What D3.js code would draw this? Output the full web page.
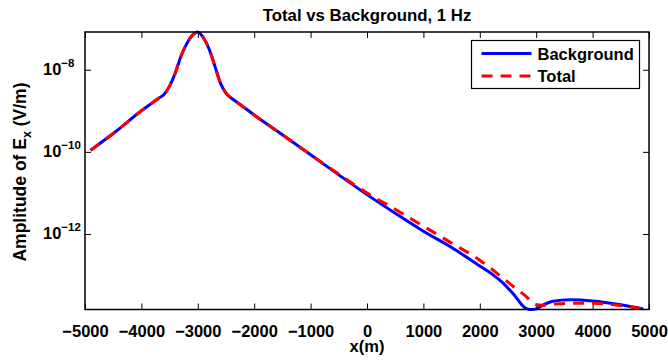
<!DOCTYPE html>
<html>
<head>
<meta charset="utf-8">
<script src="https://cdn.jsdelivr.net/npm/d3@7"></script>
<style>
  body { margin: 0; background: #fff; }
  svg { display: block; font-family: "Liberation Sans", Arial, Helvetica, sans-serif; font-weight: bold; }
  svg text { font-family: "Liberation Sans", Arial, Helvetica, sans-serif; }
</style>
</head>
<body>
<div id="chart"></div>
<script>
// values (x in metres, amplitude in V/m)
const bgX = [-4900, -4500, -4000, -3700, -3600, -3500, -3400, -3300, -3200, -3100, -3000,
  -2900, -2800, -2700, -2600, -2500, -2400, -2300, -2000, -1500, -1000, -500, 0,
  500, 1000, 1500, 2000, 2200, 2400, 2600, 2800, 2900, 3000, 3100, 3300, 3600, 4000, 4500, 4900];
const bgY = [1.10e-10, 2.8e-10, 1.0e-9, 2.0e-9, 2.5e-9, 4.0e-9, 8.3e-9, 2.1e-8, 4.2e-8, 6.8e-8, 8.3e-8,
  6.0e-8, 3.2e-8, 1.26e-8, 4.8e-9, 2.7e-9, 2.0e-9, 1.6e-9, 7.9e-10, 2.6e-10, 8.5e-11, 2.75e-11, 9.1e-12,
  3.2e-12, 1.17e-12, 4.7e-13, 1.66e-13, 1.1e-13, 6.6e-14, 3.4e-14, 1.6e-14, 1.45e-14, 1.5e-14, 1.8e-14, 2.3e-14, 2.5e-14, 2.35e-14, 1.9e-14, 1.5e-14];

const totX = [-4900, -4500, -4000, -3700, -3600, -3500, -3400, -3300, -3200, -3100, -3000,
  -2900, -2800, -2700, -2600, -2500, -2400, -2300, -2000, -1500, -1000, -500, 0,
  500, 1000, 1500, 2000, 2400, 2600, 2800, 3000, 3100, 3300, 3600, 4000, 4500, 4900];
const totY = [1.10e-10, 2.8e-10, 1.0e-9, 2.0e-9, 2.5e-9, 4.0e-9, 8.3e-9, 2.1e-8, 4.2e-8, 6.8e-8, 8.3e-8,
  6.0e-8, 3.2e-8, 1.26e-8, 4.8e-9, 2.7e-9, 2.0e-9, 1.6e-9, 7.9e-10, 2.6e-10, 8.6e-11, 2.85e-11, 1.0e-11,
  4.0e-12, 1.55e-12, 6.0e-13, 2.3e-13, 8.7e-14, 5.2e-14, 3.2e-14, 1.9e-14, 1.85e-14, 1.95e-14, 2.05e-14, 2.05e-14, 1.8e-14, 1.5e-14];

const xTicks = [-5000, -4000, -3000, -2000, -1000, 0, 1000, 2000, 3000, 4000, 5000];
const yTicks = [1e-8, 1e-10, 1e-12];
const yTickExp = ["\u22128", "\u221210", "\u221212"];

const seriesNames = ["Background", "Total"];

const w = 668;
const h = 362;
const margin = { top: 32, right: 19, bottom: 52.5, left: 85 };
const innerWidth = w - margin.left - margin.right;
const innerHeight = h - margin.top - margin.bottom;

const svg = d3.select("#chart").append("svg")
  .attr("width", w)
  .attr("height", h);

const g = svg.append("g")
  .attr("transform", `translate(${margin.left},${margin.top})`);

const x = d3.scaleLinear()
  .domain([-5000, 5000])
  .range([0, innerWidth]);

const y = d3.scaleLog()
  .domain(d3.extent(bgY.concat(totY)))
  .range([innerHeight, 0]);

// axes, ticks pointing inwards
g.append("g")
  .attr("transform", `translate(0,${innerHeight})`)
  .call(d3.axisBottom(x).tickValues(xTicks).tickFormat(d3.format("d"))
    .tickSizeInner(-6).tickSizeOuter(0).tickPadding(16))
  .call(a => a.select(".domain").remove())
  .call(a => a.attr("font-family", null).attr("font-size", 16.5))
  .call(a => a.selectAll("text").attr("fill", "#000"));

g.append("g")
  .call(d3.axisTop(x).tickValues(xTicks).tickSizeInner(-6).tickSizeOuter(0))
  .call(a => a.select(".domain").remove())
  .call(a => a.selectAll("text").remove());

const yAxis = g.append("g")
  .call(d3.axisLeft(y).tickValues(yTicks).tickSizeInner(-6).tickSizeOuter(0))
  .call(a => a.select(".domain").remove())
  .call(a => a.selectAll("text").remove())
  .call(a => a.attr("font-family", null).attr("font-size", 16.5));

yAxis.selectAll(".tick").each(function (d, i) {
  const t = d3.select(this).append("text")
    .attr("x", -42)
    .attr("y", 5)
    .attr("fill", "#000")
    .attr("text-anchor", "start");
  t.append("tspan").text("10");
  t.append("tspan").attr("dy", -8).attr("font-size", 11.5).text(yTickExp[i]);
});

g.append("g")
  .attr("transform", `translate(${innerWidth},0)`)
  .call(d3.axisRight(y).tickValues(yTicks).tickSizeInner(-6).tickSizeOuter(0))
  .call(a => a.select(".domain").remove())
  .call(a => a.selectAll("text").remove());

g.selectAll(".tick line").attr("stroke", "#000").attr("stroke-width", 1);

// curves
const line = d3.line()
  .x(d => x(d[0]))
  .y(d => y(d[1]))
  .curve(d3.curveMonotoneX);

g.append("path")
  .datum(d3.zip(bgX, bgY))
  .attr("d", line)
  .attr("fill", "none")
  .attr("stroke", "#0000ff")
  .attr("stroke-width", 3);

g.append("path")
  .datum(d3.zip(totX, totY))
  .attr("d", line)
  .attr("fill", "none")
  .attr("stroke", "#ff0000")
  .attr("stroke-width", 3)
  .attr("stroke-dasharray", "11,8");

// plot box
g.append("rect")
  .attr("width", innerWidth)
  .attr("height", innerHeight)
  .attr("fill", "none")
  .attr("stroke", "#000")
  .attr("stroke-width", 1.5);

// title and labels
svg.append("text")
  .attr("x", margin.left + innerWidth / 2)
  .attr("y", 21)
  .attr("text-anchor", "middle")
  .attr("font-size", 16.8)
  .text("Total vs Background, 1 Hz");

svg.append("text")
  .attr("x", margin.left + innerWidth / 2)
  .attr("y", 352)
  .attr("text-anchor", "middle")
  .attr("font-size", 16.5)
  .text("x(m)");

const yl = svg.append("text")
  .attr("transform", `translate(26,172) rotate(-90)`)
  .attr("text-anchor", "middle")
  .attr("font-size", 17.5);
yl.append("tspan").text("Amplitude of E");
yl.append("tspan").attr("dy", 5).attr("font-size", 12.5).text("x");
yl.append("tspan").attr("dy", -5).text(" (V/m)");

// legend
const legend = svg.append("g").attr("transform", "translate(471.5,40.5)");
legend.append("rect")
  .attr("width", 168)
  .attr("height", 48)
  .attr("fill", "#fff")
  .attr("stroke", "#000")
  .attr("stroke-width", 1.2);

const legendColors = ["#0000ff", "#ff0000"];
const legendDash = [null, "11,8"];
seriesNames.forEach((name, i) => {
  const ly = 13 + i * 22.5;
  legend.append("line")
    .attr("x1", 10).attr("x2", 60)
    .attr("y1", ly).attr("y2", ly)
    .attr("stroke", legendColors[i])
    .attr("stroke-width", 3)
    .attr("stroke-dasharray", legendDash[i]);
  legend.append("text")
    .attr("x", 66)
    .attr("y", ly + 6)
    .attr("font-size", 16.5)
    .text(name);
});
</script>
</body>
</html>
